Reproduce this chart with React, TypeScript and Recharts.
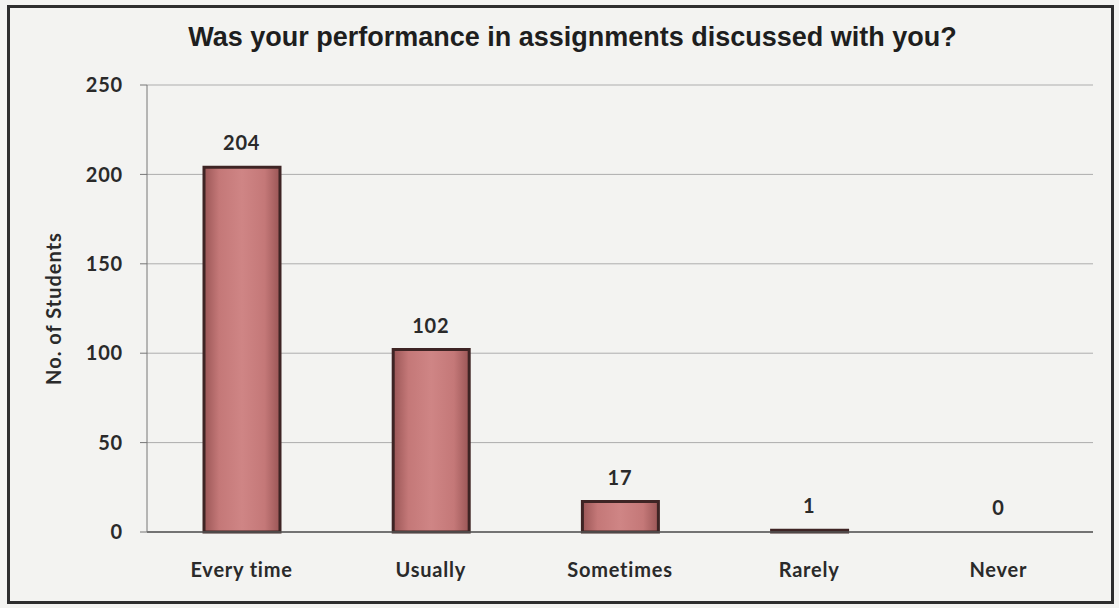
import React from "react";
import { ComposedChart, Bar, Line, XAxis, YAxis, CartesianGrid, LabelList, Label } from "recharts";

const categories = ["Every time", "Usually", "Sometimes", "Rarely", "Never"];
const students = [204, 102, 17, 1, 0];
const yTicks = [0, 50, 100, 150, 200, 250];
const title = "Was your performance in assignments discussed with you?";
const yTitle = "No. of Students";

const data = categories.map((c, i) => ({ name: c, value: students[i] }));

const tickFont = {
  fontFamily: "Lato, 'Open Sans', sans-serif",
  fontWeight: 700,
  fontSize: 20,
  letterSpacing: 0.8,
  fill: "#2a2a2a",
};

export default function App() {
  return (
    <div style={{ position: "absolute", left: 0, top: 0, width: 1119, height: 608, background: "#f3f3f1" }}>
      <div
        style={{
          position: "absolute",
          left: 7,
          top: 5,
          width: 1101,
          height: 593,
          border: "3px solid #2e2e2e",
          boxSizing: "content-box",
        }}
      />
      <div
        style={{
          position: "absolute",
          left: 0,
          top: 22,
          width: 1145,
          textAlign: "center",
          fontFamily: "'Liberation Sans', Arial, sans-serif",
          fontWeight: 700,
          fontSize: 27,
          color: "#1e1e1e",
        }}
      >
        {title}
      </div>
      <div style={{ position: "absolute", left: 0, top: 0 }}>
        <ComposedChart width={1119} height={608} data={data} margin={{ top: 85, right: 26, bottom: 0, left: 0 }}>
          <defs>
            <linearGradient id="barFill" x1="0" y1="0" x2="1" y2="0">
              <stop offset="0%" stopColor="#9a5656" />
              <stop offset="20%" stopColor="#c47878" />
              <stop offset="50%" stopColor="#cf8585" />
              <stop offset="80%" stopColor="#c47878" />
              <stop offset="100%" stopColor="#9a5656" />
            </linearGradient>
          </defs>
          <CartesianGrid vertical={false} stroke="#adadad" strokeWidth={1} />
          <XAxis
            dataKey="name"
            height={76}
            tickLine={false}
            tickSize={0}
            tickMargin={31}
            axisLine={{ stroke: "#555", strokeWidth: 1.5 }}
            tick={tickFont}
          />
          <YAxis
            width={147}
            domain={[0, 250]}
            ticks={yTicks}
            tickSize={7}
            tickMargin={17}
            axisLine={{ stroke: "#777" }}
            tickLine={{ stroke: "#777" }}
            tick={tickFont}
          >
            <Label
              value={yTitle}
              angle={-90}
              position="insideLeft"
              offset={54}
              style={{
                fontFamily: "Lato, 'Open Sans', sans-serif",
                fontWeight: 700,
                fontSize: 20,
                letterSpacing: 1,
                fill: "#2a2a2a",
                textAnchor: "middle",
              }}
            />
          </YAxis>
          <Bar
            dataKey="value"
            barSize={76}
            fill="url(#barFill)"
            stroke="#3e2424"
            strokeWidth={3}
            isAnimationActive={false}
          />
          <Line
            dataKey="value"
            stroke="none"
            dot={false}
            activeDot={false}
            legendType="none"
            isAnimationActive={false}
          >
            <LabelList dataKey="value" position="top" offset={17} style={tickFont} />
          </Line>
        </ComposedChart>
      </div>
    </div>
  );
}
